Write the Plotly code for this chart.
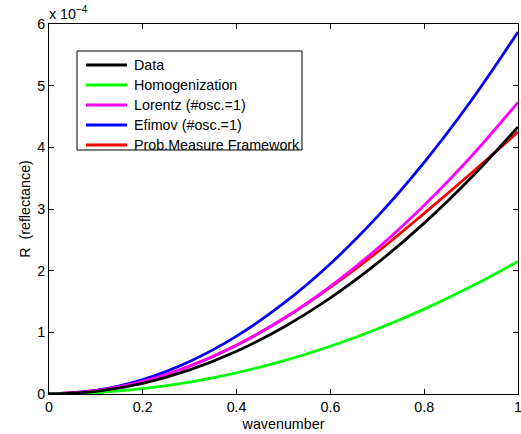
import plotly.graph_objects as go

# wavenumber samples
wavenumber = [0.0, 0.1, 0.2, 0.3, 0.4, 0.5, 0.6, 0.7, 0.8, 0.9, 1.0]

# reflectance values, in units of 1e-4
data_R = [0.0, 0.043, 0.173, 0.390, 0.693, 1.083, 1.559, 2.122, 2.771, 3.507, 4.33]
homog_R = [0.0, 0.0215, 0.086, 0.194, 0.344, 0.538, 0.774, 1.054, 1.376, 1.742, 2.15]
lorentz_R = [0.0, 0.053, 0.205, 0.452, 0.792, 1.224, 1.747, 2.359, 3.061, 3.851, 4.73]
efimov_R = [0.0, 0.059, 0.235, 0.528, 0.939, 1.468, 2.113, 2.876, 3.757, 4.755, 5.87]
pmf_R = [0.0, 0.053, 0.205, 0.452, 0.790, 1.220, 1.730, 2.300, 2.930, 3.580, 4.25]

series_names = ["Data", "Homogenization", "Lorentz (#osc.=1)", "Efimov (#osc.=1)",
                "Prob.Measure Framework"]
series_values = [data_R, homog_R, lorentz_R, efimov_R, pmf_R]
series_colors = ["#000000", "#00ff00", "#ff00ff", "#0000ff", "#ff0000"]

x_ticks = [0, 0.2, 0.4, 0.6, 0.8, 1]
x_tick_labels = ["0", "0.2", "0.4", "0.6", "0.8", "1"]
y_ticks = [0, 1, 2, 3, 4, 5, 6]
y_tick_labels = ["0", "1", "2", "3", "4", "5", "6"]

FONT = "Liberation Sans, Arial, sans-serif"
FS = 14.3

W, H = 521, 434
L, R, T, B = 49, 3, 24, 40
PW, PH = W - L - R, H - T - B


def px_x(px):
    return (px - L) / PW


def px_y(py):
    return (H - B - py) / PH


fig = go.Figure()
# draw in reverse so "Data" is on top like the reference
for name, vals, col in reversed(list(zip(series_names, series_values, series_colors))):
    fig.add_trace(go.Scatter(x=wavenumber, y=vals, mode="lines", name=name,
                             line=dict(color=col, width=2.8, shape="spline"),
                             showlegend=False))

axis_common = dict(showgrid=False, zeroline=False, showline=True, linecolor="black",
                   linewidth=1, mirror="allticks", ticks="inside", ticklen=5,
                   tickcolor="black", ticklabeloverflow="allow", automargin=False,
                   tickfont=dict(family=FONT, size=FS, color="black"))

fig.update_xaxes(range=[0, 1], tickvals=x_ticks, ticktext=x_tick_labels,
                 title=dict(text="wavenumber", font=dict(family=FONT, size=FS, color="black"),
                            standoff=4),
                 **axis_common)
fig.update_yaxes(range=[0, 6], tickvals=y_ticks, ticktext=y_tick_labels,
                 title=dict(text="R  (reflectance)", font=dict(family=FONT, size=FS, color="black"),
                            standoff=3),
                 **axis_common)

shapes = []
annotations = []
# legend box
shapes.append(dict(type="rect", xref="paper", yref="paper",
                   x0=px_x(77), x1=px_x(302), y0=px_y(150), y1=px_y(51),
                   line=dict(color="black", width=1), fillcolor="white", layer="above"))
for i, (name, col) in enumerate(zip(series_names, series_colors)):
    yy = px_y(65 + i * 20)
    shapes.append(dict(type="line", xref="paper", yref="paper",
                       x0=px_x(86), x1=px_x(127), y0=yy, y1=yy,
                       line=dict(color=col, width=2.8), layer="above"))
    annotations.append(dict(xref="paper", yref="paper", x=px_x(132), y=yy,
                            xanchor="left", yanchor="middle", showarrow=False,
                            text=name, font=dict(family=FONT, size=FS, color="black")))

# exponent label
annotations.append(dict(xref="paper", yref="paper", x=0, y=1, xanchor="left",
                        yanchor="bottom", yshift=0, xshift=-2, showarrow=False,
                        text="x 10<sup>\u22124</sup>",
                        font=dict(family=FONT, size=FS, color="black")))

fig.update_layout(width=W, height=H, margin=dict(l=L, r=R, t=T, b=B),
                  plot_bgcolor="white", paper_bgcolor="white",
                  shapes=shapes, annotations=annotations, showlegend=False)

fig.write_html("out.html")
